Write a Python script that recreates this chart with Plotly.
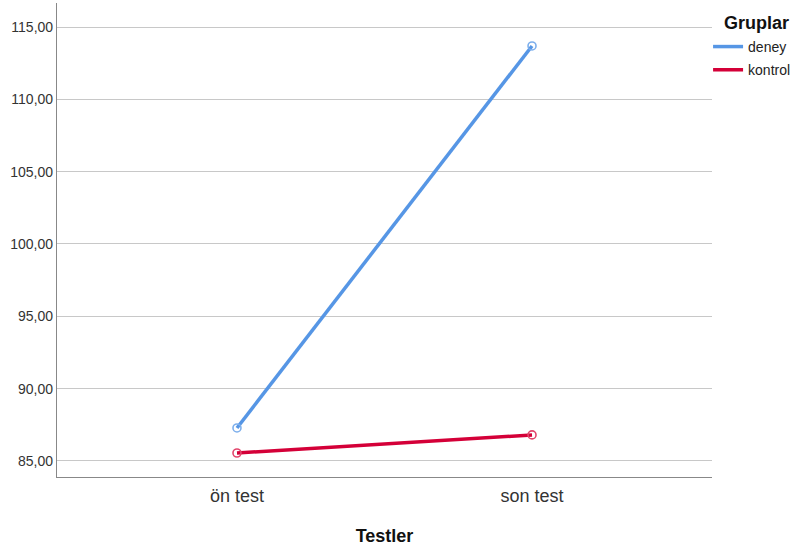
import plotly.graph_objects as go

categories = ["ön test", "son test"]
deney = [87.28, 113.69]
kontrol = [85.55, 86.80]
y_ticks = [85, 90, 95, 100, 105, 110, 115]
legend_title = "Gruplar"

blue = "rgb(86,150,229)"
red = "rgb(212,0,56)"

fig = go.Figure()
series = [("deney", deney, blue, "rgb(125,175,236)"),
          ("kontrol", kontrol, red, "rgb(226,70,108)")]
for name, vals, col, mcol in series:
    fig.add_trace(go.Scatter(
        x=[0, 1], y=vals, mode="lines", name=name, legendgroup=name,
        line=dict(color=col, width=3.5),
    ))
for name, vals, col, mcol in series:
    fig.add_trace(go.Scatter(
        x=[0, 1], y=vals, mode="markers", name=name, legendgroup=name, showlegend=False,
        marker=dict(symbol="circle-open", size=8, color=mcol, line=dict(width=1.6)),
    ))

fig.add_annotation(
    text="<b>" + legend_title + "</b>", xref="paper", yref="paper",
    x=1.0155, y=1.0, xanchor="left", yanchor="top", yshift=-8,
    showarrow=False, font=dict(size=18, color="#111"),
)

fig.update_layout(
    width=795, height=548,
    margin=dict(l=57, r=83, t=3, b=71, autoexpand=False),
    paper_bgcolor="white", plot_bgcolor="white",
    font=dict(family="Liberation Sans, Arial, sans-serif", size=14, color="#222"),
    separators=",.",
    showlegend=True,
    legend=dict(
        x=0.994, xanchor="left", y=0.941, yanchor="top",
        font=dict(size=14, color="#222"),
        itemwidth=30, traceorder="grouped", tracegroupgap=2,
        bgcolor="rgba(0,0,0,0)",
    ),
    xaxis=dict(
        range=[-0.61, 1.61], tickmode="array", tickvals=[0, 1], ticktext=categories,
        showgrid=False, zeroline=False, showline=True, linecolor="#888", linewidth=1.2,
        ticks="", tickfont=dict(size=18, color="#333"), ticklabelstandoff=2,
        title=dict(text="<b>Testler</b>", font=dict(size=18, color="#111"), standoff=24),
    ),
    yaxis=dict(
        range=[83.89, 116.66], tickmode="array", tickvals=y_ticks, tickformat=".2f",
        showgrid=True, gridcolor="#c8c8c8", gridwidth=1.2, zeroline=False,
        showline=True, linecolor="#888", linewidth=1.2, ticks="",
        tickfont=dict(size=14, color="#333"),
    ),
)

fig.write_html("out.html", config={"displayModeBar": False},
               post_script="document.body.style.margin='0';")
